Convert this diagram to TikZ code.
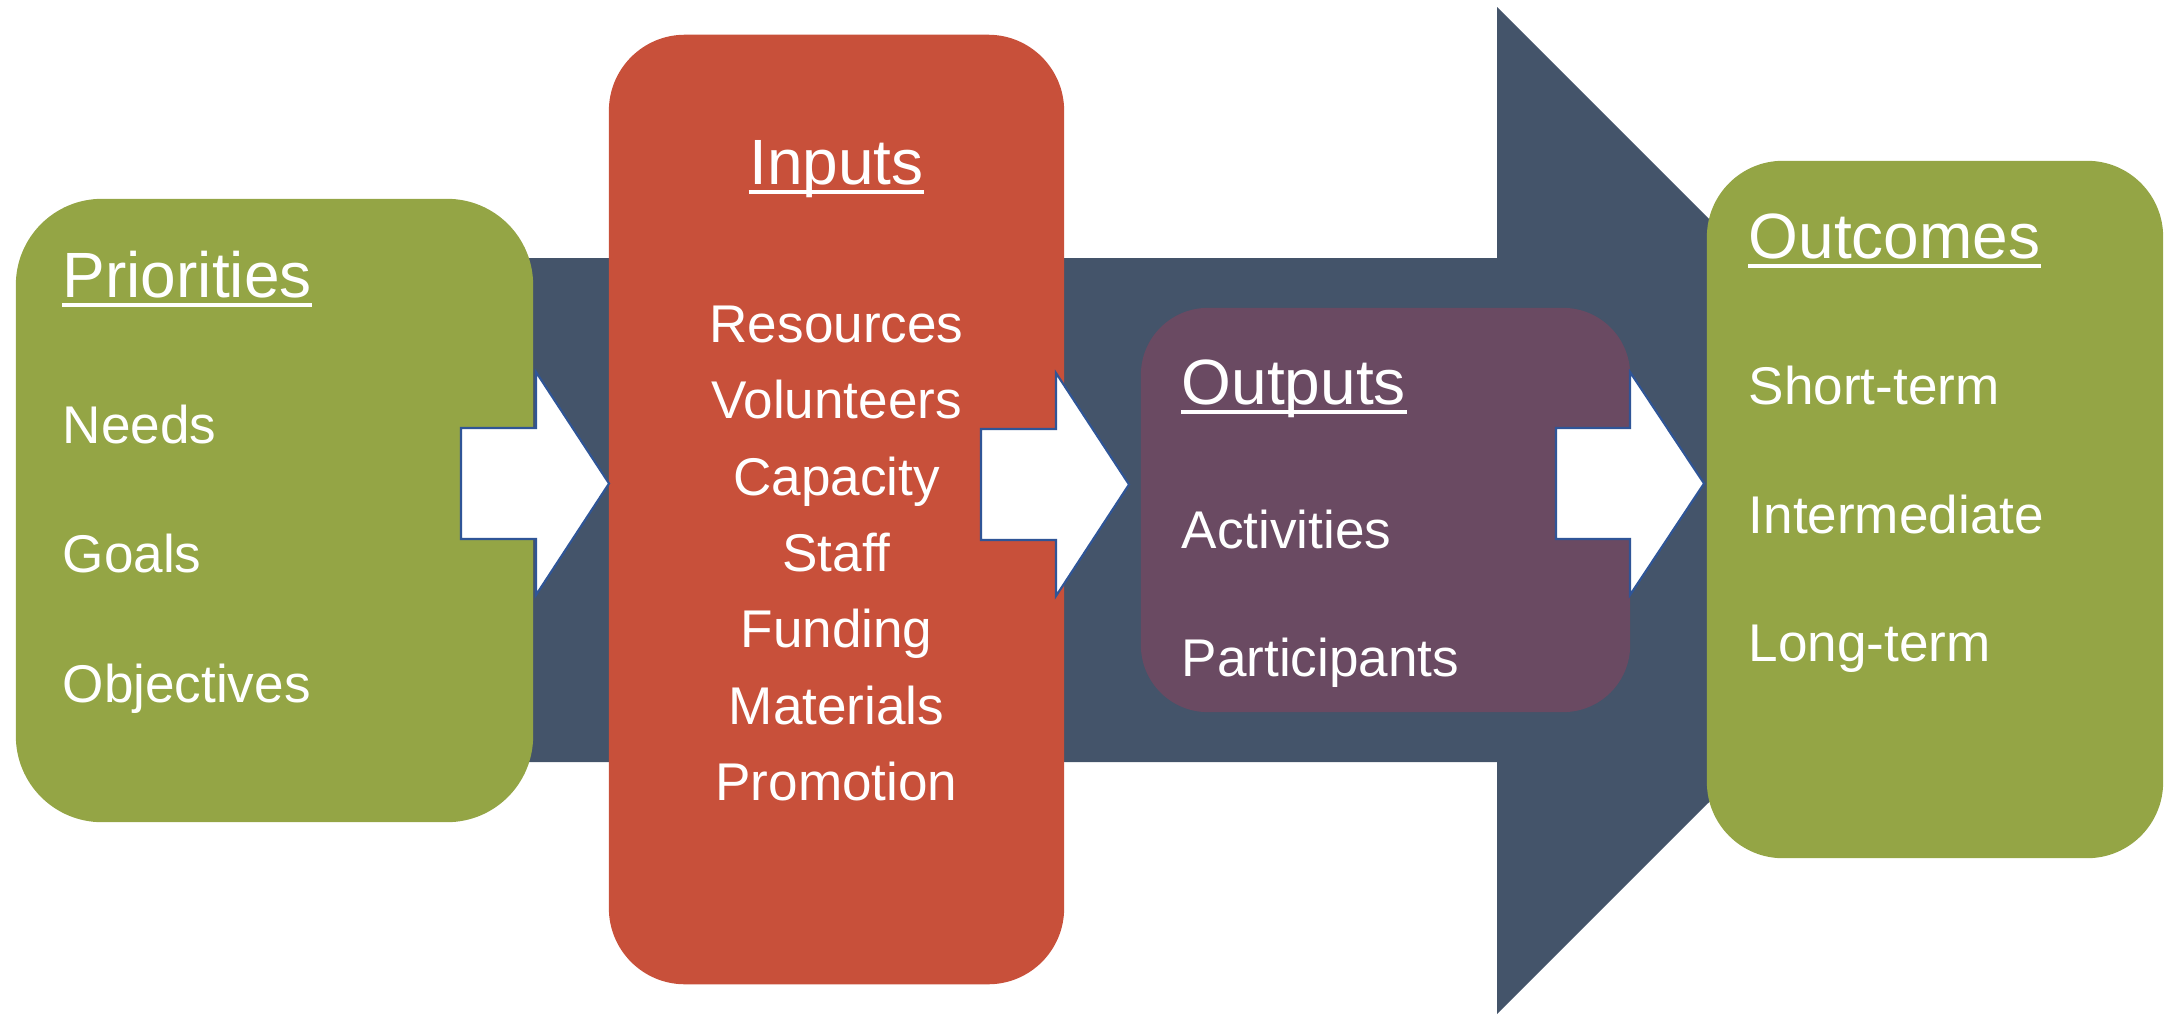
\documentclass[tikz,border=0pt]{standalone}
\usepackage{fontspec}
\setmainfont{Liberation Sans}

\definecolor{boxgreen}{HTML}{94A545}
\definecolor{boxred}{HTML}{C8503A}
\definecolor{boxpurple}{HTML}{6A4A62}
\definecolor{bigslate}{HTML}{44546A}
\definecolor{arrowblue}{HTML}{2F5597}

\tikzset{
  box/.style={inner sep=0pt, outer sep=0pt},
  title/.style={text=white, inner sep=0pt, anchor=base west, font=\fontsize{18.2}{22}\selectfont},
  item/.style={text=white, inner sep=0pt, anchor=base west, font=\fontsize{15.1}{18}\selectfont},
  uline/.style={white, line width=1.1pt},
  flowarrow/.style={fill=white, draw=arrowblue, line width=0.6pt, line join=miter},
}

\begin{document}
\begin{tikzpicture}[x=0.01cm, y=-0.01cm]
\useasboundingbox (0,0) rectangle (2164,1015);

% big background arrow
\fill[bigslate] (300,258) -- (1497,258) -- (1497,7) -- (2001,510.5) -- (1497,1014) -- (1497,762) -- (300,762) -- cycle;

% boxes
\node[box, fill=boxgreen, minimum width=5.17cm, minimum height=6.23cm, rounded corners=0.86cm] (pri) at (274.5,510.5) {};
\node[box, fill=boxred, minimum width=4.55cm, minimum height=9.49cm, rounded corners=0.76cm] (inp) at (836.5,509.5) {};
\node[box, fill=boxpurple, minimum width=4.89cm, minimum height=4.04cm, rounded corners=0.67cm] (outp) at (1385.5,510) {};
\node[box, fill=boxgreen, minimum width=4.56cm, minimum height=6.97cm, rounded corners=0.76cm] (outc) at (1935,509.5) {};

% white arrows between the boxes
\draw[flowarrow] (461,428) -- (536,428) -- (536,372) -- (609,483.5) -- (536,595) -- (536,539) -- (461,539) -- cycle;
\draw[flowarrow] (981,429) -- (1056,429) -- (1056,373) -- (1129,484.5) -- (1056,596) -- (1056,540) -- (981,540) -- cycle;
\draw[flowarrow] (1556,428) -- (1630,428) -- (1630,372) -- (1704,483.5) -- (1630,595) -- (1630,539) -- (1556,539) -- cycle;

% Priorities
\node[title] (tpri) at (62,297) {Priorities};
\draw[uline] ([yshift=-0.08cm]tpri.base west) -- ([yshift=-0.08cm]tpri.base east);
\node[item] (needs) at (62,443) {Needs};
\node[item] (goals) at (62,572) {Goals};
\node[item] (objectives) at (62,702) {Objectives};

% Inputs
\node[title, anchor=base] (tinp) at (836.5,184) {Inputs};
\draw[uline] ([yshift=-0.08cm]tinp.base west) -- ([yshift=-0.08cm]tinp.base east);
\node[item, anchor=base] (resources) at (836.5,342) {Resources};
\node[item, anchor=base] (volunteers) at (836.5,418) {Volunteers};
\node[item, anchor=base] (capacity) at (836.5,495) {Capacity};
\node[item, anchor=base] (staff) at (836.5,571) {Staff};
\node[item, anchor=base] (funding) at (836.5,647) {Funding};
\node[item, anchor=base] (materials) at (836.5,724) {Materials};
\node[item, anchor=base] (promotion) at (836.5,800) {Promotion};

% Outputs
\node[title] (toutp) at (1181,404) {Outputs};
\draw[uline] ([yshift=-0.08cm]toutp.base west) -- ([yshift=-0.08cm]toutp.base east);
\node[item] (activities) at (1181,548) {Activities};
\node[item] (participants) at (1181,676) {Participants};

% Outcomes
\node[title] (toutc) at (1748,258) {Outcomes};
\draw[uline] ([yshift=-0.08cm]toutc.base west) -- ([yshift=-0.08cm]toutc.base east);
\node[item] (shortterm) at (1748,404) {Short-term};
\node[item] (intermediate) at (1748,533) {Intermediate};
\node[item] (longterm) at (1748,661) {Long-term};

\end{tikzpicture}
\end{document}
